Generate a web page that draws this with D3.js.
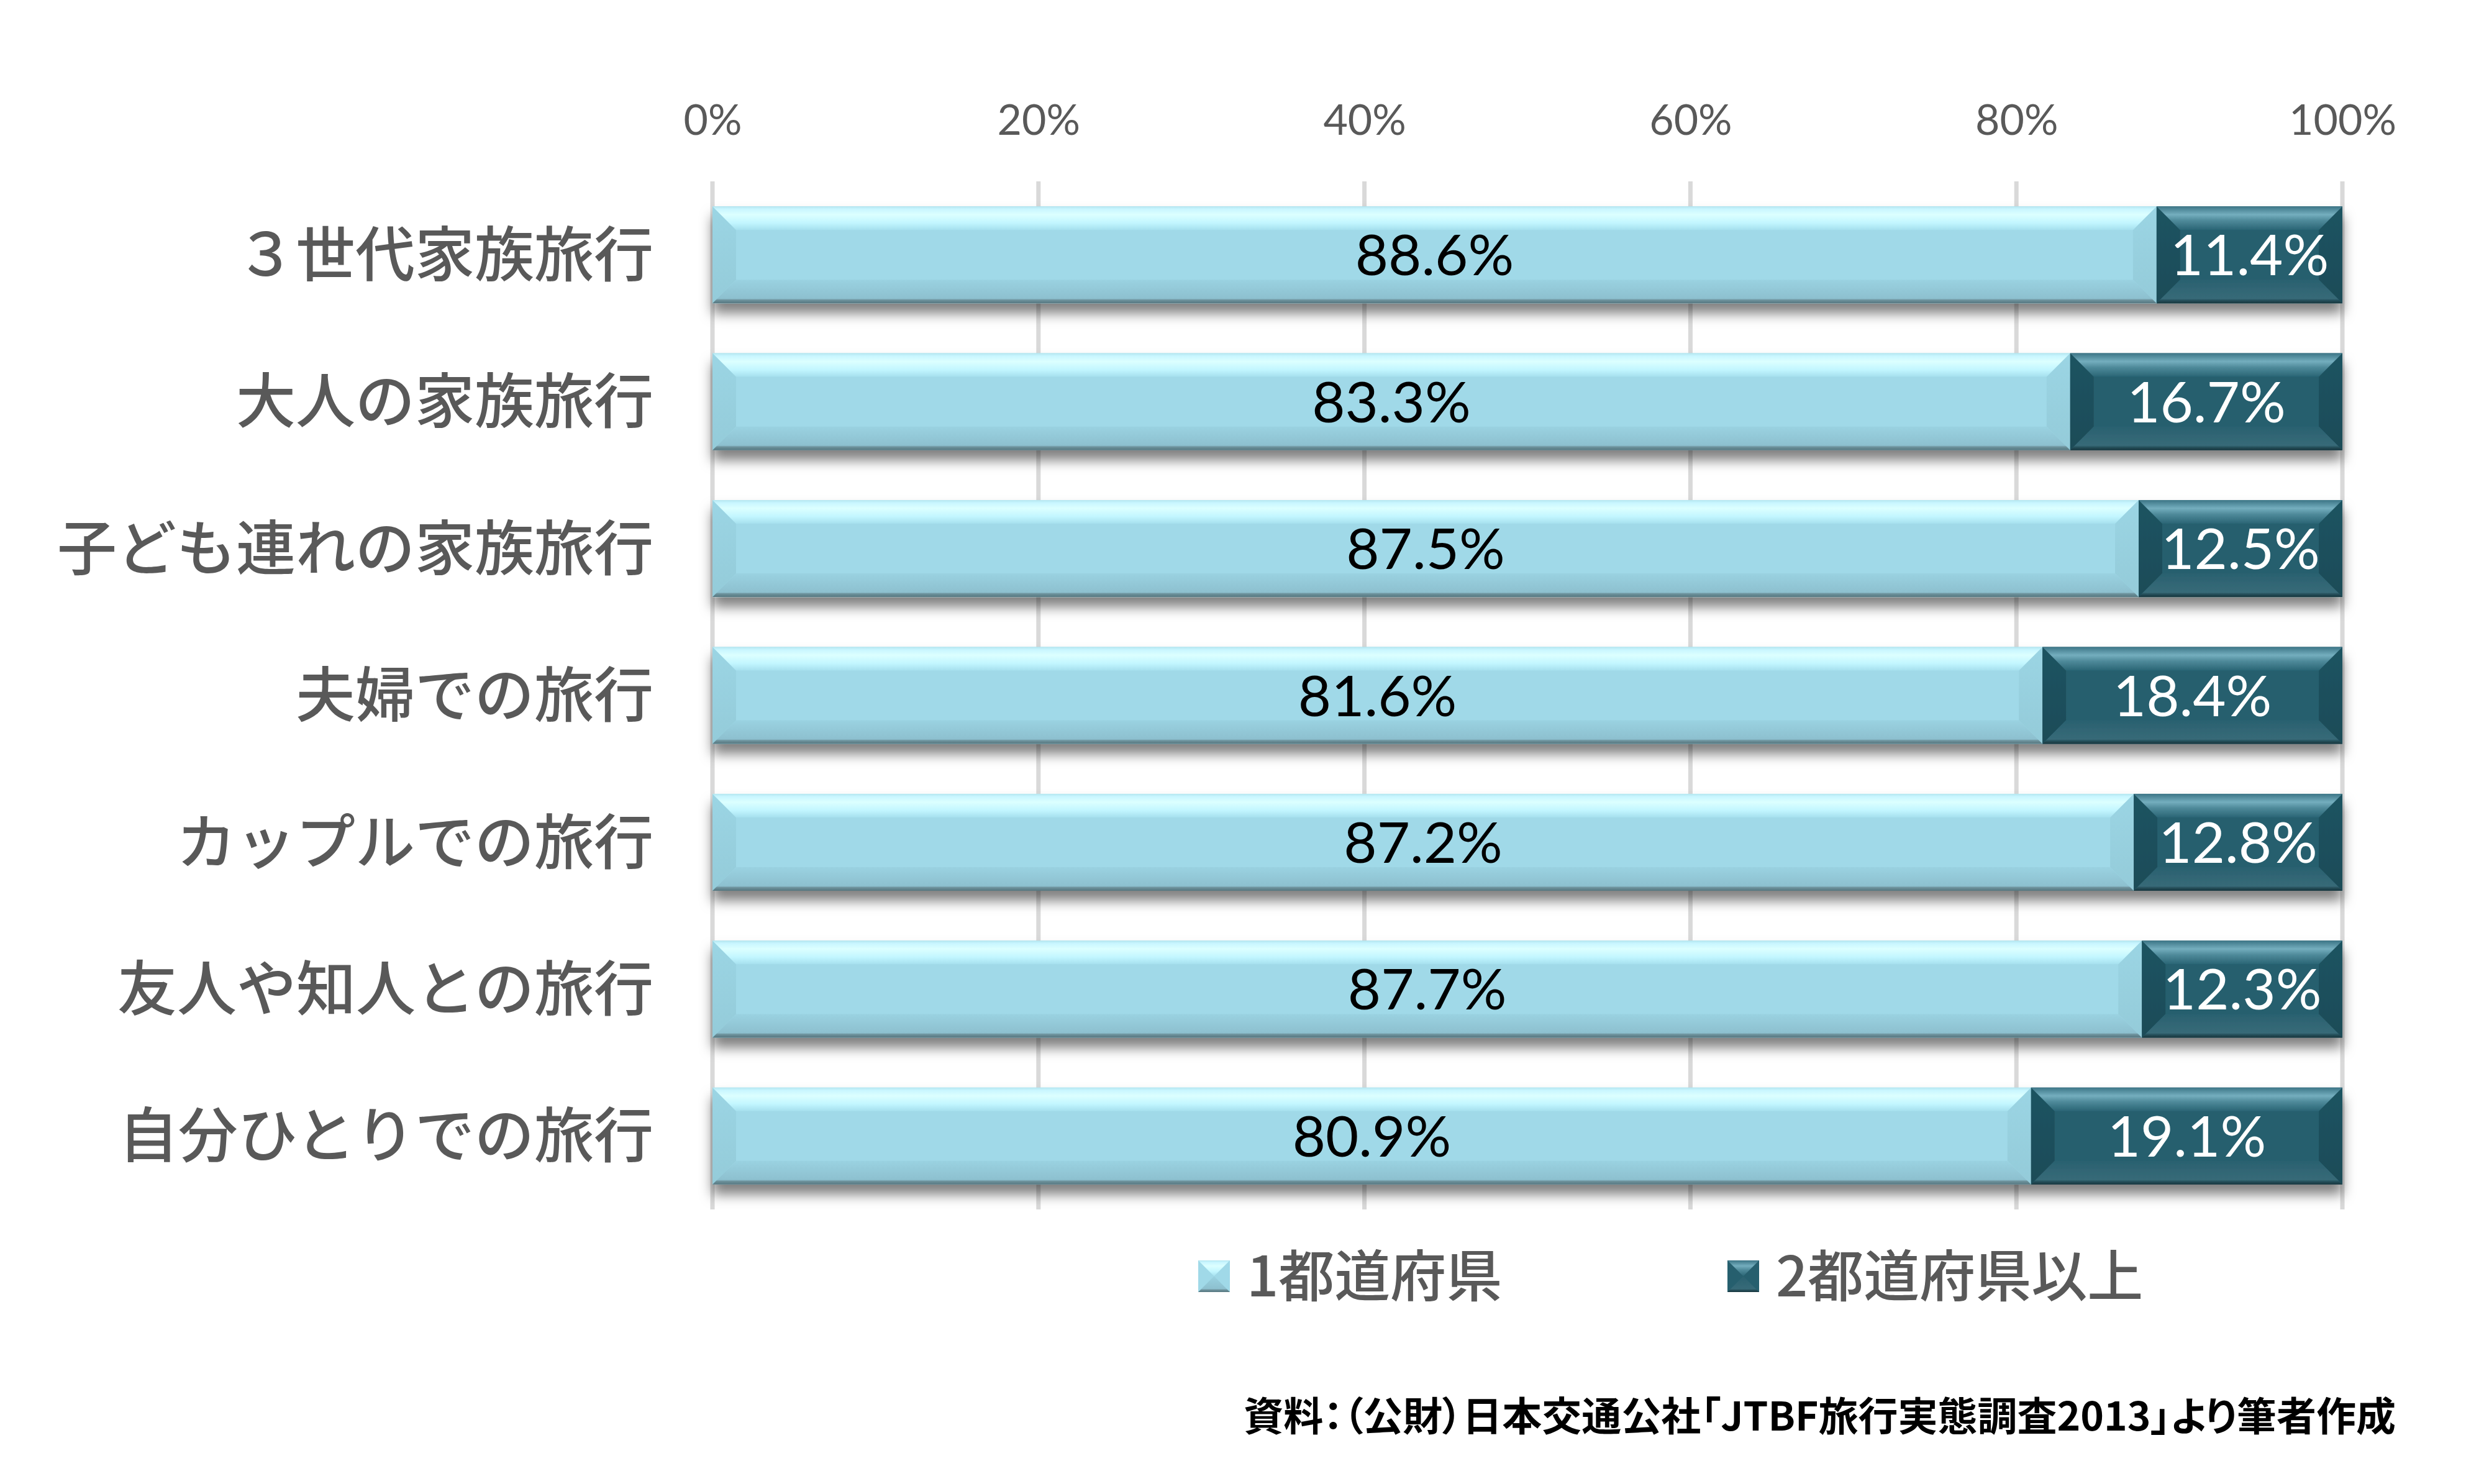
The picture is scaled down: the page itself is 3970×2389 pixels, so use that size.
<!DOCTYPE html>
<html>
<head>
<meta charset="utf-8">
<script src="https://cdn.jsdelivr.net/npm/d3@7"></script>
<style>
html,body{margin:0;padding:0;background:#fff;}
svg{display:block;}
</style>
</head>
<body>
<svg id="chart" width="3970" height="2389"></svg>
<script>
const categories = ["３世代家族旅行","大人の家族旅行","子ども連れの家族旅行","夫婦での旅行","カップルでの旅行","友人や知人との旅行","自分ひとりでの旅行"];
const oneOnly = [88.6,83.3,87.5,81.6,87.2,87.7,80.9];
const twoPlus = [11.4,16.7,12.5,18.4,12.8,12.3,19.1];
const seriesNames = ["1都道府県","2都道府県以上"];
const tickValues = [0,20,40,60,80,100];
const sourceText = "資料：（公財）日本交通公社「JTBF旅行実態調査2013」より筆者作成";

const svg = d3.select("#chart");
const W = 3970, H = 2389;
svg.append("rect").attr("width",W).attr("height",H).attr("fill","#fff");

const x = d3.scaleLinear().domain([0,100]).range([1147,3771]);
const y = d3.scaleBand().domain(categories).range([292,1947]).paddingInner(0.34).paddingOuter(0.17);

const defs = svg.append("defs");
function lg(id, stops){
  const g = defs.append("linearGradient").attr("id",id).attr("x1",0).attr("y1",0).attr("x2",0).attr("y2",1);
  stops.forEach(s=>g.append("stop").attr("offset",s[0]).attr("stop-color",s[1]));
}
// light series
lg("lTop",[[0,"#B4E6F0"],[0.12,"#C9F6FF"],[0.35,"#DCFFFF"],[0.7,"#C2F6FF"],[1,"#A6E0EE"]]);
lg("lBot",[[0,"#9AD2E1"],[0.8,"#8DC0CF"],[0.86,"#6E939D"],[1,"#55767F"]]);
lg("lSide",[[0,"#9BD5E4"],[1,"#94CBD9"]]);
// dark series
lg("dTop",[[0,"#3C7586"],[0.35,"#74AEBE"],[0.6,"#4F8A9A"],[1,"#2A6575"]]);
lg("dBot",[[0,"#2A6170"],[0.8,"#376A78"],[0.88,"#254F5A"],[1,"#17353D"]]);
lg("dSide",[[0,"#1F5361"],[1,"#1E4C58"]]);

const fil = defs.append("filter").attr("id","shadow").attr("x","-5%").attr("y","-20%").attr("width","110%").attr("height","160%");
fil.append("feDropShadow").attr("dx",0).attr("dy",16).attr("stdDeviation",10).attr("flood-color","#000").attr("flood-opacity",0.5);

// gridlines
svg.append("g").selectAll("line").data(tickValues).join("line")
  .attr("x1",d=>x(d)).attr("x2",d=>x(d)).attr("y1",292).attr("y2",1947)
  .attr("stroke","#D9D9D9").attr("stroke-width",7);

// top axis tick labels
const axTop = svg.append("g").attr("transform","translate(0,292)")
  .call(d3.axisTop(x).tickValues(tickValues).tickFormat(d=>d+"%").tickSize(0).tickPadding(75));
axTop.select(".domain").remove();
axTop.selectAll("text").attr("font-family","Lato, 'Open Sans', sans-serif").attr("font-size",68).attr("fill","#595959");

// left axis category labels
const axLeft = svg.append("g").attr("transform","translate(1052,0)")
  .call(d3.axisLeft(y).tickSize(0).tickPadding(0));
axLeft.select(".domain").remove();
axLeft.selectAll("text").attr("font-family","'Noto Sans CJK JP', sans-serif").attr("font-weight",500).attr("font-size",96).attr("fill","#595959").attr("dy","0.35em");

function bevel(g, x0, x1, y0, y1, pre){
  const d = Math.min(38, (x1-x0)/2, (y1-y0)/2);
  const base = pre==="l" ? "#A0D9E8" : "#265F6E";
  g.append("rect").attr("x",x0).attr("y",y0).attr("width",x1-x0).attr("height",y1-y0).attr("fill",base);
  g.append("polygon").attr("points",[[x0,y0],[x0+d,y0+d],[x0+d,y1-d],[x0,y1]].join(" ")).attr("fill",`url(#${pre}Side)`);
  g.append("polygon").attr("points",[[x1,y0],[x1-d,y0+d],[x1-d,y1-d],[x1,y1]].join(" ")).attr("fill",`url(#${pre}Side)`);
  g.append("polygon").attr("points",[[x0,y0],[x1,y0],[x1-d,y0+d],[x0+d,y0+d]].join(" ")).attr("fill",`url(#${pre}Top)`);
  g.append("polygon").attr("points",[[x0,y1],[x1,y1],[x1-d,y1-d],[x0+d,y1-d]].join(" ")).attr("fill",`url(#${pre}Bot)`);
}

const rows = categories.map((c,i)=>({c, a:oneOnly[i], b:twoPlus[i]}));
const barsG = svg.append("g");
rows.forEach(r=>{
  const g = barsG.append("g").attr("filter","url(#shadow)");
  const y0 = y(r.c), y1 = y(r.c)+y.bandwidth();
  bevel(g, x(0), x(r.a), y0, y1, "l");
  bevel(g, x(r.a), x(r.a+r.b), y0, y1, "d");
});

// data labels
const labG = svg.append("g").attr("font-family","Lato, 'Open Sans', sans-serif").attr("font-size",92).attr("text-anchor","middle");
labG.selectAll("text.a").data(rows).join("text").attr("class","a")
  .attr("x",d=>(x(0)+x(d.a))/2).attr("y",d=>y(d.c)+y.bandwidth()/2).attr("dy","0.36em")
  .attr("fill","#000").text(d=>d.a.toFixed(1)+"%");
labG.selectAll("text.b").data(rows).join("text").attr("class","b")
  .attr("x",d=>(x(d.a)+x(d.a+d.b))/2).attr("y",d=>y(d.c)+y.bandwidth()/2).attr("dy","0.36em")
  .attr("fill","#fff").text(d=>d.b.toFixed(1)+"%");

// legend
const legX = [1929, 2781];
const leg = svg.append("g");
seriesNames.forEach((n,i)=>{
  const g = leg.append("g");
  const sx = legX[i], sy = 2029, s = 51;
  const pre = i===0 ? "l" : "d";
  const base = pre==="l" ? "#A0D9E8" : "#265F6E";
  g.append("rect").attr("x",sx).attr("y",sy).attr("width",s).attr("height",s).attr("fill",base);
  g.append("polygon").attr("points",[[sx,sy],[sx+s,sy],[sx+s/2,sy+s/2]].join(" ")).attr("fill",`url(#${pre}Top)`);
  g.append("polygon").attr("points",[[sx,sy+s],[sx+s,sy+s],[sx+s/2,sy+s/2]].join(" ")).attr("fill",`url(#${pre}Bot)`);
  g.append("text").attr("x",sx+78).attr("y",sy+s/2).attr("dy","0.36em")
    .attr("font-family","'Noto Sans CJK JP', sans-serif").attr("font-weight",500).attr("font-size",90).attr("fill","#595959").text(n);
});

// source
svg.append("text").attr("x",3857).attr("y",2280).attr("dy","0.36em").attr("text-anchor","end")
  .attr("font-family","'Noto Sans CJK JP', sans-serif").attr("font-weight","bold").attr("font-size",64)
  .style("font-feature-settings","'palt'")
  .attr("fill","#000").text(sourceText);
</script>
</body>
</html>
